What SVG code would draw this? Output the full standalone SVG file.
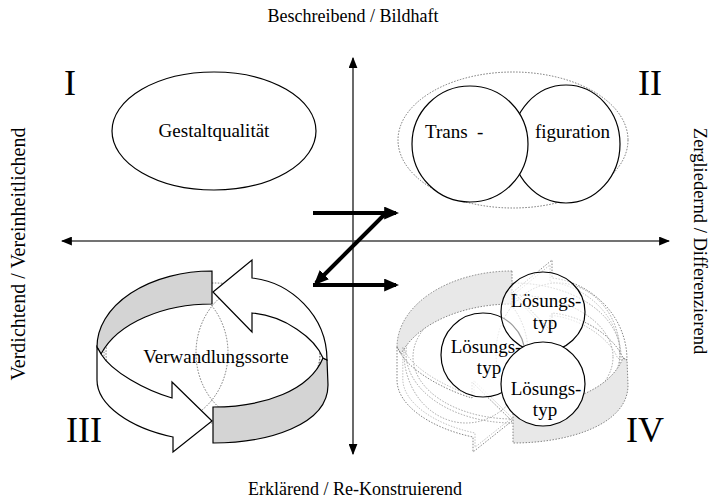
<svg xmlns="http://www.w3.org/2000/svg" xmlns:xlink="http://www.w3.org/1999/xlink" width="711" height="499" viewBox="0 0 711 499">
<style>
text{font-family:"Liberation Serif","Times New Roman",serif;fill:#000}
.lbl{font-size:19px;text-anchor:middle}
.ax{font-size:18px;text-anchor:middle}
.rom{font-size:36px}
.solid{fill:#fff;stroke:#000;stroke-width:1.2}
.dot{fill:none;stroke:#666;stroke-width:0.9;stroke-dasharray:1.5 1.5}
.dotl{fill:none;stroke:#999;stroke-width:0.9;stroke-dasharray:1.5 1.5}
.axis{stroke:#444;stroke-width:1.6;fill:none}
.z{stroke:#000;stroke-width:4;fill:none}
</style>
<defs>
<marker id="ah" viewBox="0 0 10 8" markerUnits="userSpaceOnUse" markerWidth="11" markerHeight="9" refX="9" refY="4" orient="auto"><path d="M0,0 L10,4 L0,8 z" fill="#000"/></marker>
<marker id="zh" viewBox="0 0 14 12" markerUnits="userSpaceOnUse" markerWidth="15" markerHeight="13" refX="11" refY="6" orient="auto"><path d="M0,0 L14,6 L0,12 z" fill="#000"/></marker>
<g id="ringGray">
<path d="M212,271 A115,76 0 0 0 97,347 L101,354 C118,322 165,304 212,304 Z"/>
<path d="M327,360 L323,358 C310,390 265,407 213,407 L213,443 C268,443 328,425 328,385 Z"/>
</g>
<g id="ringWhite">
<path d="M97,347 L97,380 C97,405 130,428 173,437 L173,452 L212,421 L172,382 L172,398 C145,390 112,372 101,354 Z"/>
<path d="M213,292 L252,260 L252,278 C290,282 327,315 327,360 L323,358 C315,338 285,316 252,313 L252,332 Z"/>
</g>
</defs>
<rect width="711" height="499" fill="#fff"/>

<g id="connectors">
<line class="axis" x1="353" y1="241" x2="62" y2="241" marker-end="url(#ah)"/>
<line class="axis" x1="353" y1="241" x2="669" y2="241" marker-end="url(#ah)"/>
<line class="axis" x1="353" y1="241" x2="353" y2="58" marker-end="url(#ah)"/>
<line class="axis" x1="353" y1="241" x2="353" y2="454" marker-end="url(#ah)"/>
<line class="z" x1="313" y1="213" x2="396" y2="213" marker-end="url(#zh)"/>
<line class="z" x1="386" y1="213" x2="316" y2="283" marker-end="url(#zh)"/>
<line class="z" x1="313" y1="285" x2="396" y2="285" marker-end="url(#zh)"/>
</g>

<g id="axis-labels">
<text class="ax" x="353" y="22">Beschreibend / Bildhaft</text>
<text class="ax" x="355" y="495">Erklärend / Re-Konstruierend</text>
<text class="ax" transform="translate(25,254) rotate(-90)" style="font-size:20px">Verdichtend / Vereinheitlichend</text>
<text class="ax" transform="translate(694,241) rotate(90)" style="font-size:18.5px">Zergliedernd / Differenzierend</text>
</g>

<g id="numerals">
<text class="rom" x="64" y="95">I</text>
<text class="rom" x="638" y="95">II</text>
<text class="rom" x="66" y="442">III</text>
<text class="rom" x="626" y="442">IV</text>
</g>

<g id="node-gestaltqualitaet">
<ellipse class="solid" cx="214" cy="131" rx="102" ry="59"/>
<text class="lbl" x="214" y="137">Gestaltqualität</text>
</g>

<g id="node-transfiguration">
<ellipse class="dot" cx="513" cy="140" rx="115" ry="68"/>
<ellipse class="solid" cx="566" cy="144" rx="54" ry="59"/>
<ellipse class="solid" cx="470" cy="144" rx="58" ry="58"/>
<text x="425" y="138" style="font-size:19px" xml:space="preserve">Trans  -</text>
<text x="535" y="138" style="font-size:19px">figuration</text>
</g>

<g id="node-verwandlungssorte">
<ellipse class="dot" cx="213" cy="353" rx="107" ry="70"/>
<ellipse class="dot" cx="166" cy="353" rx="62" ry="70"/>
<ellipse class="dot" cx="258" cy="353" rx="62" ry="70"/>
<use xlink:href="#ringGray" href="#ringGray" fill="#d4d4d4" stroke="#000" stroke-width="1.2"/>
<use xlink:href="#ringWhite" href="#ringWhite" fill="#fff" stroke="#000" stroke-width="1.2"/>
<text class="lbl" x="216" y="363">Verwandlungssorte</text>
</g>

<g id="node-loesungstypen">
<g transform="translate(300,0)">
<ellipse class="dotl" cx="213" cy="353" rx="107" ry="70"/>
<ellipse class="dotl" cx="213" cy="357" rx="100" ry="62"/>
<ellipse class="dotl" cx="166" cy="353" rx="62" ry="70"/>
<ellipse class="dotl" cx="258" cy="353" rx="62" ry="70"/>
<use xlink:href="#ringGray" href="#ringGray" fill="#e8e8e8" stroke="#777" stroke-width="0.9" stroke-dasharray="1.5 1.5"/>
<use xlink:href="#ringWhite" href="#ringWhite" fill="none" stroke="#777" stroke-width="0.9" stroke-dasharray="1.5 1.5"/>
<g transform="translate(213,357) scale(0.95) translate(-213,-357)"><use xlink:href="#ringWhite" href="#ringWhite" fill="none" stroke="#aaa" stroke-width="0.8" stroke-dasharray="1.5 1.5"/></g>
</g>
<circle cx="483" cy="355" r="42" fill="#fff" fill-opacity="0.75" stroke="#000" stroke-width="1.2"/>
<text class="lbl" x="486" y="353">Lösungs-</text>
<text class="lbl" x="489" y="374">typ</text>
<ellipse cx="543" cy="312" rx="42" ry="40" fill="#fff" fill-opacity="0.6" stroke="#000" stroke-width="1.2"/>
<text class="lbl" x="546" y="307">Lösungs-</text>
<text class="lbl" x="545" y="329">typ</text>
<circle cx="543" cy="384" r="42" fill="#fff" stroke="#000" stroke-width="1.2"/>
<text class="lbl" x="546" y="395">Lösungs-</text>
<text class="lbl" x="545" y="416">typ</text>
</g>
</svg>
